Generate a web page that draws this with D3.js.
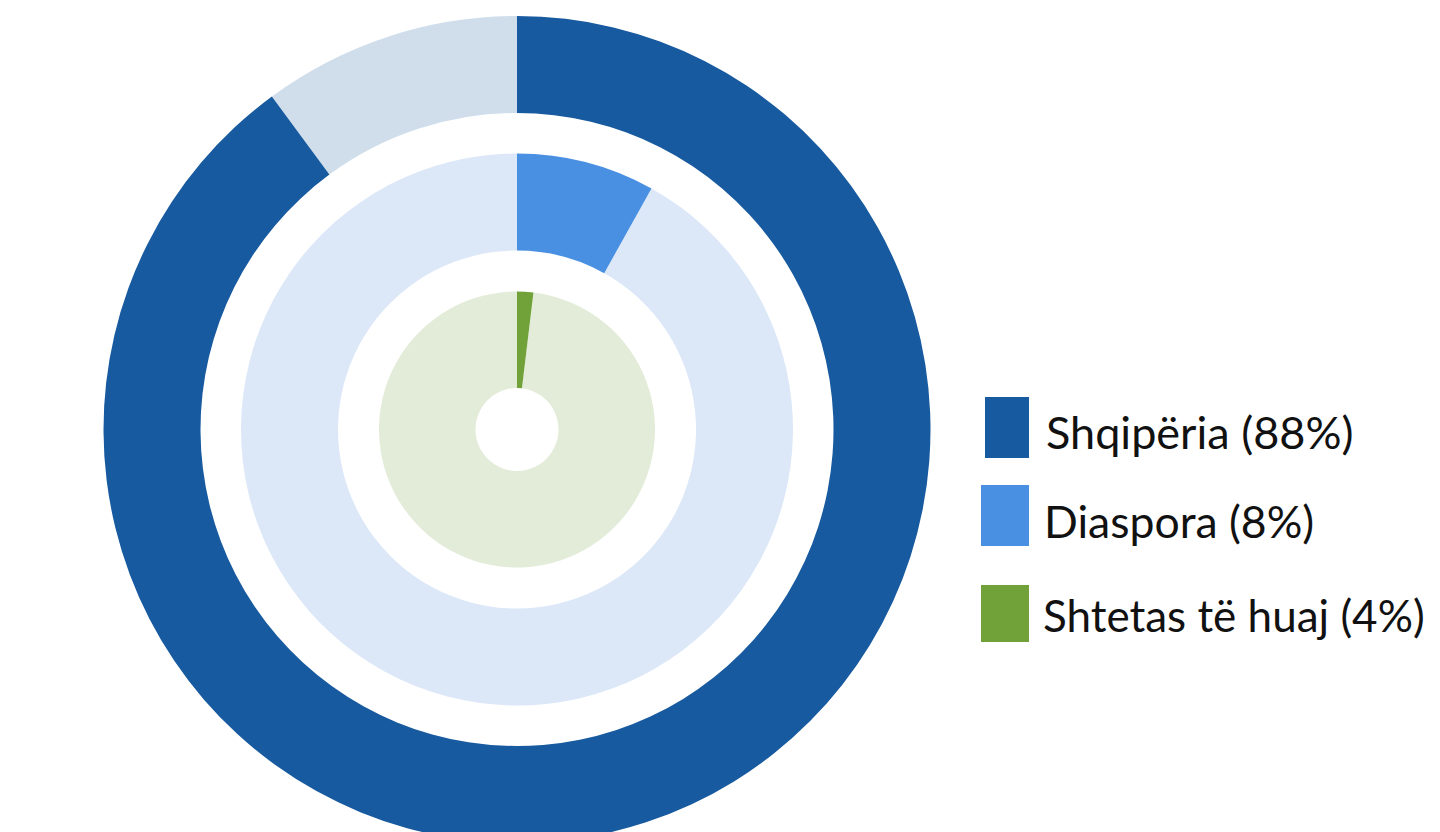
<!DOCTYPE html>
<html>
<head>
<meta charset="utf-8">
<script src="https://cdn.jsdelivr.net/npm/d3@7"></script>
<style>
  html, body { margin: 0; padding: 0; background: #ffffff; }
  svg { display: block; }
  text { font-family: Lato, "Open Sans", sans-serif; }
</style>
</head>
<body>
<svg id="chart" width="1440" height="832"></svg>
<script>
// Data
const categories = ["Shqipëria", "Diaspora", "Shtetas të huaj"];
const legendLabels = ["Shqipëria (88%)", "Diaspora (8%)", "Shtetas të huaj (4%)"];
const ringValues = [89.9, 8.1, 1.9];
const ringMax = 100;
const colors = ["#175A9F", "#4A90E2", "#71A139"];
const trackColors = ["#D0DEEB", "#DCE8F8", "#E2ECD8"];

const svg = d3.select("#chart");
const cx = 517, cy = 429.5;
const radii = [[316.5, 413.5], [179, 276], [41.5, 138]];

const angle = d3.scaleLinear().domain([0, ringMax]).range([0, 2 * Math.PI]);
const g = svg.append("g").attr("transform", `translate(${cx},${cy})`);

categories.forEach((c, i) => {
  const arc = d3.arc().innerRadius(radii[i][0]).outerRadius(radii[i][1]);
  g.append("path")
    .attr("d", arc({startAngle: angle(ringValues[i]), endAngle: angle(ringMax)}))
    .attr("fill", trackColors[i]);
  g.append("path")
    .attr("d", arc({startAngle: 0, endAngle: angle(ringValues[i])}))
    .attr("fill", colors[i]);
});

// Legend
const legendSquares = [
  {x: 985, y: 397, w: 44, h: 61},
  {x: 981, y: 485, w: 48, h: 61},
  {x: 981, y: 585, w: 48, h: 57}
];
const legendText = [
  {x: 1046, y: 449, s: 45},
  {x: 1044, y: 538, s: 44.5},
  {x: 1043, y: 632, s: 44}
];
const lg = svg.append("g");
categories.forEach((c, i) => {
  lg.append("rect")
    .attr("x", legendSquares[i].x).attr("y", legendSquares[i].y)
    .attr("width", legendSquares[i].w).attr("height", legendSquares[i].h)
    .attr("fill", colors[i]);
  lg.append("text")
    .attr("x", legendText[i].x).attr("y", legendText[i].y)
    .attr("font-size", legendText[i].s)
    .attr("fill", "#111")
    .text(legendLabels[i]);
});
</script>
</body>
</html>
